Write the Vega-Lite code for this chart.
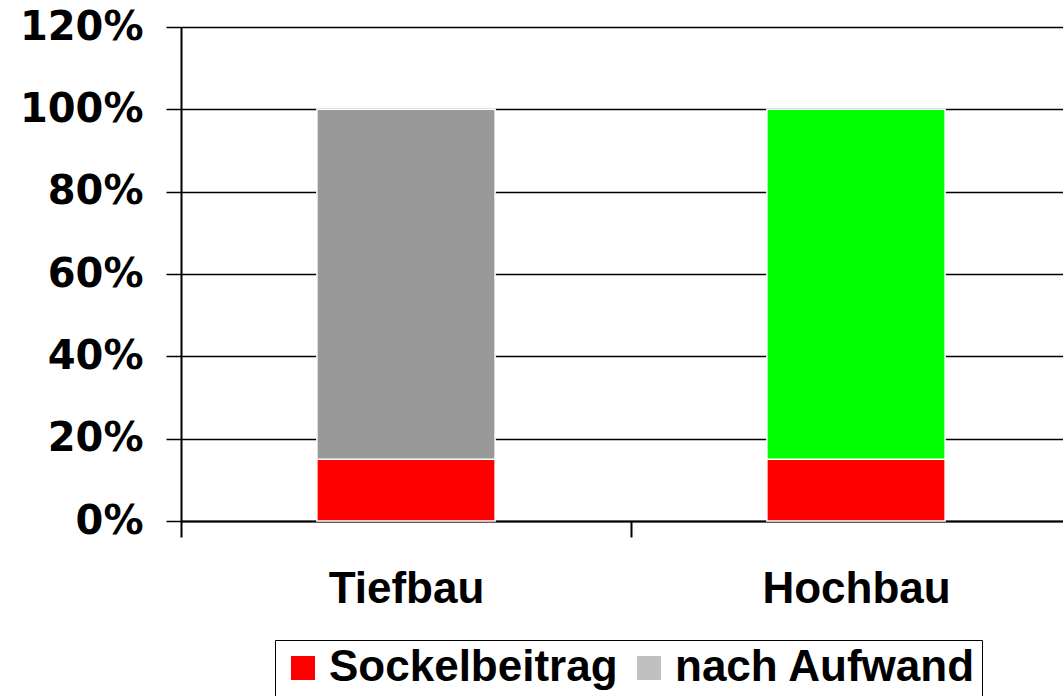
{
  "$schema": "https://vega.github.io/schema/vega-lite/v6.json",
  "width": 882,
  "height": 494,
  "autosize": {"type": "none"},
  "padding": {"left": 181, "top": 27, "right": 0, "bottom": 175},
  "background": "white",
  "config": {"view": {"stroke": null}},
  "data": {
    "values": [
      {"Bereich": "Tiefbau", "Anteil": "Sockelbeitrag", "Wert": 0.15},
      {"Bereich": "Tiefbau", "Anteil": "nach Aufwand", "Wert": 0.85},
      {"Bereich": "Hochbau", "Anteil": "Sockelbeitrag", "Wert": 0.15},
      {"Bereich": "Hochbau", "Anteil": "nach Aufwand", "Wert": 0.85}
    ]
  },
  "mark": {"type": "bar", "width": {"band": 0.396}, "stroke": "white", "strokeWidth": 1.5},
  "encoding": {
    "x": {
      "field": "Bereich",
      "type": "nominal",
      "sort": ["Tiefbau", "Hochbau"],
      "scale": {"range": [0, 900], "paddingInner": 0, "paddingOuter": 0},
      "axis": {
        "title": null,
        "labelAngle": 0,
        "tickBand": "extent",
        "domainColor": "black",
        "domainWidth": 2,
        "tickColor": "black",
        "tickWidth": 2,
        "tickSize": 16,
        "labelFont": "Liberation Sans",
        "labelFontWeight": "bold",
        "labelFontSize": 44,
        "labelColor": "black",
        "labelBaseline": "alphabetic",
        "labelPadding": 65,
        "labelLimit": 400,
        "grid": false
      }
    },
    "y": {
      "field": "Wert",
      "type": "quantitative",
      "stack": "zero",
      "scale": {"domain": [0, 1.2]},
      "axis": {
        "values": [0, 0.2, 0.4, 0.6, 0.8, 1, 1.2],
        "format": ".0%",
        "title": null,
        "grid": true,
        "gridColor": "black",
        "gridWidth": 1.5,
        "domainColor": "black",
        "domainWidth": 2,
        "tickColor": "black",
        "tickWidth": 1.5,
        "tickSize": 15,
        "labelFont": "DejaVu Sans",
        "labelFontWeight": "bold",
        "labelFontSize": 40,
        "labelColor": "black",
        "labelPadding": 23,
        "labelOverlap": false,
        "labelFlush": false
      }
    },
    "order": {"field": "Anteil", "sort": "ascending"},
    "color": {
      "field": "Anteil",
      "type": "nominal",
      "scale": {"domain": ["Sockelbeitrag", "nach Aufwand"], "range": ["#ff0000", "#c0c0c0"]},
      "condition": [
        {"test": "datum.Bereich === 'Hochbau' && datum.Anteil === 'nach Aufwand'", "value": "#00ff00"},
        {"test": "datum.Bereich === 'Tiefbau' && datum.Anteil === 'nach Aufwand'", "value": "#999999"}
      ],
      "legend": {
        "title": null,
        "orient": "none",
        "legendX": 94,
        "legendY": 613,
        "direction": "horizontal",
        "symbolType": "square",
        "symbolSize": 576,
        "symbolStrokeWidth": 0,
        "symbolOpacity": 1,
        "labelFont": "Liberation Sans",
        "labelFontWeight": "bold",
        "labelFontSize": 44,
        "labelColor": "black",
        "labelOffset": 4,
        "labelLimit": 400,
        "columnPadding": 9,
        "padding": 6,
        "strokeColor": "black",
        "fillColor": "white"
      }
    }
  }
}
